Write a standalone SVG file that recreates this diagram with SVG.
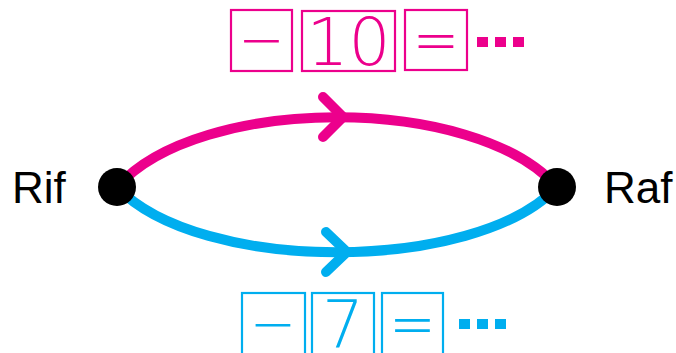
<svg xmlns="http://www.w3.org/2000/svg" width="676" height="353" viewBox="0 0 676 353">
<style>
.lbl{font-family:"Liberation Sans",Arial,sans-serif;font-size:44px;fill:#000}
.glyph{font-family:"DejaVu Sans",sans-serif;font-weight:200;font-size:66px;text-anchor:middle}
.pk{fill:#EC008C}
.bl{fill:#00AEEF}
.boxp{fill:none;stroke:#EC008C;stroke-width:2.2}
.boxb{fill:none;stroke:#00AEEF;stroke-width:2.2}
.edge{fill:none;stroke-width:10;stroke-linecap:round;stroke-linejoin:round}
</style>
<g id="connectors">
  <path class="edge" stroke="#EC008C" d="M117,187 C199,94 475,94 557,187"/>
  <path class="edge" stroke="#EC008C" d="M323,97 L343,117 L323,137"/>
  <path class="edge" stroke="#00AEEF" d="M117,187 C199,274 475,274 557,187"/>
  <path class="edge" stroke="#00AEEF" d="M326,232 L347,252 L326,272"/>
</g>
<g id="node-rif">
  <circle cx="117" cy="187" r="19" fill="#000"/>
  <text class="lbl" x="12" y="203">Rif</text>
</g>
<g id="node-raf">
  <circle cx="557" cy="187" r="19" fill="#000"/>
  <text class="lbl" x="604" y="203">Raf</text>
</g>
<g id="label-top">
  <rect class="boxp" x="231" y="10" width="61" height="61"/>
  <text class="glyph pk" transform="translate(261.5,0) scale(0.84,1)" x="0" y="62">−</text>
  <rect class="boxp" x="302" y="11" width="93" height="60"/>
  <text class="glyph pk" x="348.5" y="65">10</text>
  <rect class="boxp" x="405" y="10" width="62" height="60"/>
  <text class="glyph pk" transform="translate(436,0) scale(0.84,1)" x="0" y="62">=</text>
  <rect class="pk" x="477" y="37" width="11" height="10"/>
  <rect class="pk" x="495" y="37" width="11" height="10"/>
  <rect class="pk" x="513" y="37" width="11" height="10"/>
</g>
<g id="label-bottom">
  <rect class="boxb" x="242" y="293" width="63" height="62"/>
  <text class="glyph bl" transform="translate(273,0) scale(0.84,1)" x="0" y="346">−</text>
  <rect class="boxb" x="312" y="293" width="62" height="62"/>
  <text class="glyph bl" x="343" y="348">7</text>
  <rect class="boxb" x="382" y="293" width="61" height="62"/>
  <text class="glyph bl" transform="translate(412.5,0) scale(0.84,1)" x="0" y="346">=</text>
  <rect class="bl" x="459" y="319" width="11" height="10"/>
  <rect class="bl" x="477" y="319" width="11" height="10"/>
  <rect class="bl" x="495" y="319" width="11" height="10"/>
</g>
</svg>
